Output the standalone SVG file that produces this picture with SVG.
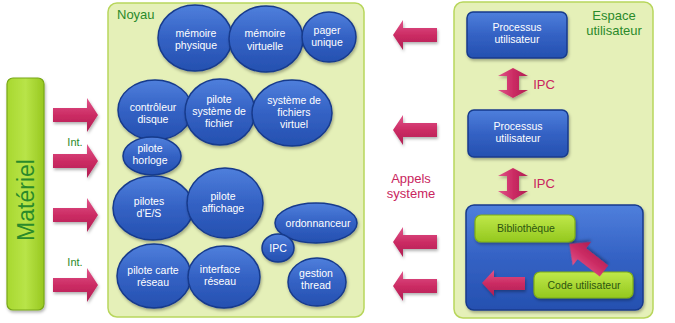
<svg xmlns="http://www.w3.org/2000/svg" width="675" height="323" viewBox="0 0 675 323">
<defs>
<linearGradient id="gBlue" x1="0" y1="0" x2="0" y2="1">
<stop offset="0" stop-color="#4f7fdc"/>
<stop offset="0.5" stop-color="#3462c4"/>
<stop offset="1" stop-color="#2550b0"/>
</linearGradient>
<linearGradient id="gGreen" x1="0" y1="0" x2="0" y2="1">
<stop offset="0" stop-color="#bfe84a"/>
<stop offset="1" stop-color="#94c81e"/>
</linearGradient>
<linearGradient id="gMat" x1="0" y1="0" x2="1" y2="0">
<stop offset="0" stop-color="#a8d830"/>
<stop offset="0.5" stop-color="#b8e448"/>
<stop offset="1" stop-color="#98c820"/>
</linearGradient>
<linearGradient id="gPink" x1="0" y1="0" x2="0" y2="1">
<stop offset="0" stop-color="#e0558a"/>
<stop offset="0.5" stop-color="#cc2c64"/>
<stop offset="1" stop-color="#b01e52"/>
</linearGradient>
<linearGradient id="gPinkV" x1="0" y1="0" x2="1" y2="0">
<stop offset="0" stop-color="#e0558a"/>
<stop offset="0.5" stop-color="#cc2c64"/>
<stop offset="1" stop-color="#b01e52"/>
</linearGradient>
<filter id="sh" x="-20%" y="-20%" width="140%" height="140%">
<feDropShadow dx="1" dy="2" stdDeviation="1.5" flood-color="#000" flood-opacity="0.3"/>
</filter>
<path id="arrR" d="M -22,-7 L 12,-7 L 12,-17 L 23,0 L 12,17 L 12,7 L -22,7 Z"/>
<path id="arrL" d="M 22,-7 L -12,-7 L -12,-15 L -22,0 L -12,15 L -12,7 L 22,7 Z"/>
</defs>
<style>
.panel{fill:#e5f0b8;stroke:#b8d65c;stroke-width:1.5}
.bub{fill:url(#gBlue);stroke:#173a8c;stroke-width:1.5;filter:url(#sh)}
.bt{font-family:"Liberation Sans",Arial,sans-serif;font-size:10.5px;fill:#ffffff;text-anchor:middle}
.lbl{font-family:"Liberation Sans",Arial,sans-serif;fill:#2a8a2a}
.pk{fill:url(#gPink);filter:url(#sh)}
.pkt{font-family:"Liberation Sans",Arial,sans-serif;font-size:13px;fill:#c9255e;text-anchor:middle}
.gbox{fill:url(#gGreen);stroke:#7fae16;stroke-width:1.2;filter:url(#sh)}
.gt{font-family:"Liberation Sans",Arial,sans-serif;font-size:10.5px;fill:#2c5510;text-anchor:middle}
</style>
<rect width="675" height="323" fill="#ffffff"/>

<g id="materiel">
<rect x="7" y="78" width="37" height="232" rx="6" fill="url(#gMat)" stroke="#78a818" stroke-width="1.2" filter="url(#sh)"/>
<text transform="translate(34,200) rotate(-90)" text-anchor="middle" class="lbl" font-size="23">Matériel</text>
</g>

<g id="noyau">
<rect class="panel" x="108" y="3" width="256" height="314" rx="9"/>
<text x="117" y="19" class="lbl" font-size="13">Noyau</text>
</g>

<g id="espace-utilisateur">
<rect class="panel" x="454" y="2" width="199" height="316" rx="9"/>
<text x="614" y="20" class="lbl" font-size="13" text-anchor="middle">Espace</text>
<text x="614" y="35" class="lbl" font-size="13" text-anchor="middle">utilisateur</text>
</g>

<g id="memoire-physique"><ellipse class="bub" cx="195" cy="38" rx="37" ry="33"/><text class="bt" x="196" y="37">mémoire</text><text class="bt" x="196" y="49">physique</text></g>
<g id="memoire-virtuelle"><ellipse class="bub" cx="266" cy="39" rx="37" ry="33"/><text class="bt" x="265" y="37">mémoire</text><text class="bt" x="265" y="50">virtuelle</text></g>
<g id="pager-unique"><ellipse class="bub" cx="329" cy="37" rx="27" ry="25"/><text class="bt" x="327" y="34">pager</text><text class="bt" x="327" y="46">unique</text></g>
<g id="controleur-disque"><ellipse class="bub" cx="155" cy="110" rx="37" ry="30"/><text class="bt" x="153" y="111">contrôleur</text><text class="bt" x="153" y="123">disque</text></g>
<g id="pilote-sgf"><ellipse class="bub" cx="220" cy="112" rx="35" ry="33"/><text class="bt" x="219" y="103">pilote</text><text class="bt" x="219" y="115">système de</text><text class="bt" x="219" y="127">fichier</text></g>
<g id="sgf-virtuel"><ellipse class="bub" cx="292" cy="113" rx="40" ry="33"/><text class="bt" x="294" y="104">système de</text><text class="bt" x="294" y="116">fichiers</text><text class="bt" x="294" y="128">virtuel</text></g>
<g id="pilote-horloge"><ellipse class="bub" cx="152" cy="156" rx="29" ry="19"/><text class="bt" x="150" y="152">pilote</text><text class="bt" x="150" y="164">horloge</text></g>
<g id="pilotes-es"><ellipse class="bub" cx="153" cy="208" rx="40" ry="32"/><text class="bt" x="149" y="205">pilotes</text><text class="bt" x="149" y="217">d'E/S</text></g>
<g id="pilote-affichage"><ellipse class="bub" cx="225" cy="203" rx="38" ry="35"/><text class="bt" x="223" y="200">pilote</text><text class="bt" x="223" y="212">affichage</text></g>
<g id="ordonnanceur"><ellipse class="bub" cx="316" cy="223" rx="41" ry="20"/><text class="bt" x="318" y="227">ordonnanceur</text></g>
<g id="ipc-noyau"><ellipse class="bub" cx="278" cy="248" rx="16" ry="14"/><text class="bt" x="278" y="252">IPC</text></g>
<g id="pilote-carte-reseau"><ellipse class="bub" cx="154" cy="276" rx="37" ry="32"/><text class="bt" x="153" y="274">pilote carte</text><text class="bt" x="153" y="286">réseau</text></g>
<g id="interface-reseau"><ellipse class="bub" cx="224" cy="277" rx="36" ry="31"/><text class="bt" x="220" y="273">interface</text><text class="bt" x="220" y="285">réseau</text></g>
<g id="gestion-thread"><ellipse class="bub" cx="317" cy="282" rx="29" ry="24"/><text class="bt" x="316" y="277">gestion</text><text class="bt" x="316" y="289">thread</text></g>

<g id="processus-1"><rect x="467" y="12" width="100" height="46" rx="6" fill="url(#gBlue)" stroke="#173a8c" stroke-width="1.5" filter="url(#sh)"/><text class="bt" x="517" y="31">Processus</text><text class="bt" x="517" y="43">utilisateur</text></g>
<g id="processus-2"><rect x="468" y="110" width="100" height="47" rx="6" fill="url(#gBlue)" stroke="#173a8c" stroke-width="1.5" filter="url(#sh)"/><text class="bt" x="518" y="130">Processus</text><text class="bt" x="518" y="142">utilisateur</text></g>
<g id="processus-3"><rect x="466" y="205" width="177" height="105" rx="8" fill="url(#gBlue)" stroke="#173a8c" stroke-width="1.5" filter="url(#sh)"/></g>
<g id="bibliotheque"><rect class="gbox" x="475" y="215" width="100" height="27" rx="6"/><text class="gt" x="526" y="232">Bibliothèque</text></g>
<g id="code-utilisateur"><rect class="gbox" x="534" y="272" width="99" height="26" rx="6"/><text class="gt" x="584" y="289">Code utilisateur</text></g>

<g id="connectors">
<use href="#arrR" class="pk" x="75" y="115"/>
<use href="#arrR" class="pk" x="75" y="161"/>
<use href="#arrR" class="pk" x="75" y="215"/>
<use href="#arrR" class="pk" x="75" y="285"/>
<use href="#arrL" class="pk" x="415" y="35"/>
<use href="#arrL" class="pk" x="415" y="130"/>
<use href="#arrL" class="pk" x="415" y="242"/>
<use href="#arrL" class="pk" x="415" y="286"/>
<path class="pk" d="M 513,68 L 528,76 L 519,76 L 519,90 L 528,90 L 513,98 L 498,90 L 507,90 L 507,76 L 498,76 Z" style="fill:url(#gPinkV)"/>
<path class="pk" d="M 513,168 L 528,176 L 519,176 L 519,191 L 528,191 L 513,200 L 498,191 L 507,191 L 507,176 L 498,176 Z" style="fill:url(#gPinkV)"/>
<path class="pk" d="M 525,277 L 494,277 L 494,270 L 482,283 L 494,296 L 494,290 L 525,290 Z"/>
<path class="pk" transform="translate(604,271) rotate(-142)" d="M 0,-7 L 28,-7 L 28,-15 L 44,0 L 28,15 L 28,7 L 0,7 Z"/>
<text class="lbl" x="75" y="146" font-size="11" text-anchor="middle">Int.</text>
<text class="lbl" x="75" y="266" font-size="11" text-anchor="middle">Int.</text>
<text class="pkt" x="544" y="89" style="text-anchor:middle">IPC</text>
<text class="pkt" x="544" y="188" style="text-anchor:middle">IPC</text>
<text class="pkt" x="411" y="183">Appels</text>
<text class="pkt" x="411" y="198">système</text>
</g>
</svg>
